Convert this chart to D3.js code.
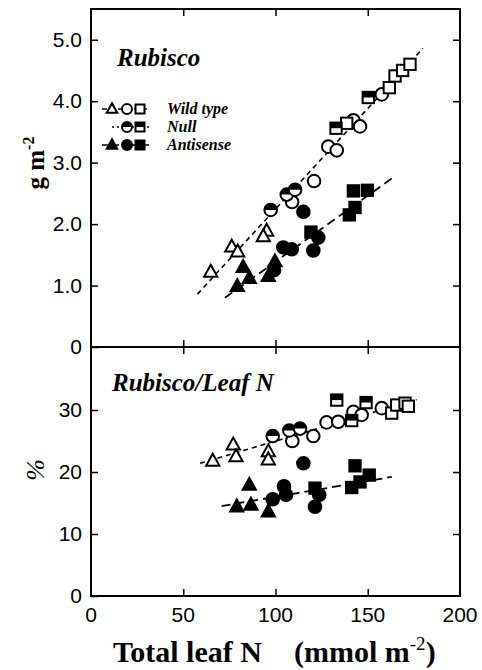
<!DOCTYPE html>
<html>
<head>
<meta charset="utf-8">
<script src="https://cdn.jsdelivr.net/npm/d3@7"></script>
<style>
  body { margin: 0; background: #fff; }
  svg { display: block; }
</style>
</head>
<body>
<svg id="chart" width="482" height="670"></svg>
<script>
// Top panel: Rubisco (g m-2) vs total leaf N
const topWildTri = [[64.9, 1.22], [76.3, 1.63], [79.5, 1.55], [95.2, 1.89], [93.4, 1.80]];
const topWildCircle = [[109.0, 2.36], [120.9, 2.70], [128.6, 3.26], [133.2, 3.20], [142.2, 3.69], [145.8, 3.59], [157.6, 4.11]];
const topWildSquare = [[138.6, 3.64], [161.7, 4.22], [164.8, 4.41], [168.9, 4.50], [172.9, 4.60]];
const topNullCircle = [[97.4, 2.23], [106.1, 2.48], [110.6, 2.56]];
const topNullSquare = [[132.8, 3.56], [150.3, 4.06]];
const topAntiTri = [[79.3, 0.99], [82.5, 1.30], [85.8, 1.12], [96.1, 1.15], [99.7, 1.39]];
const topAntiCircle = [[99.2, 1.25], [104.2, 1.62], [108.8, 1.59], [115.1, 2.20], [120.5, 1.57], [123.2, 1.78]];
const topAntiSquare = [[119.2, 1.87], [140.0, 2.15], [142.2, 2.54], [143.1, 2.27], [149.8, 2.55]];
const topWildFit = [[57.7, 0.86], [179.9, 4.86]];
const topAntiFit = [[72.6, 0.80], [164.8, 2.78]];

// Bottom panel: Rubisco / leaf N (%)
const botWildTri = [[66.0, 21.8], [77.1, 24.4], [78.6, 22.5], [96.1, 23.3], [96.1, 22.0]];
const botWildCircle = [[109.1, 25.0], [120.5, 25.8], [127.7, 28.0], [134.0, 28.1], [142.2, 29.7], [146.7, 29.2], [157.6, 30.3]];
const botWildSquare = [[163.0, 29.5], [165.7, 30.8], [170.2, 31.1], [172.0, 30.6]];
const botNullCircle = [[98.5, 25.8], [107.5, 26.7], [113.3, 27.0]];
const botNullSquare = [[133.2, 31.6], [141.3, 28.3], [149.1, 31.2]];
const botAntiTri = [[79.0, 14.4], [85.8, 17.9], [86.7, 14.7], [96.1, 13.6]];
const botAntiCircle = [[98.5, 15.6], [104.6, 17.7], [105.7, 16.3], [115.1, 21.4], [121.4, 14.4], [123.7, 16.3]];
const botAntiSquare = [[121.4, 17.4], [141.3, 17.5], [143.1, 21.0], [145.8, 18.4], [150.8, 19.5]];
const botWildFit = [[59.1, 21.4], [176.5, 31.7]];
const botAntiFit = [[70.8, 14.5], [163.0, 19.2]];

const xTicks = [0, 50, 100, 150, 200];
const topTicks = [0, 1, 2, 3, 4, 5];
const topTickLabels = ['0', '1.0', '2.0', '3.0', '4.0', '5.0'];
const botTicks = [0, 10, 20, 30];
const botTickLabels = ['0', '10', '20', '30'];
const legendLabels = ['Wild type', 'Null', 'Antisense'];

const svg = d3.select('#chart');
const left = 91, right = 460;
const x = d3.scaleLinear().domain([0, 200]).range([left, right]);
const yTop = d3.scaleLinear().domain([0, 5.5]).range([347, 9]);
const yBot = d3.scaleLinear().domain([0, 40]).range([596, 348]);

const numFont = '"Liberation Sans", Arial, sans-serif';
const serif = '"Liberation Serif", "Times New Roman", serif';

function drawMarker(g, shape, fill, cx, cy, r) {
    if (shape === 'tri') {
        const h = r * 1.9, w = r * 2.1;
        const pts = [[cx, cy - h * 0.6], [cx + w / 2, cy + h * 0.4], [cx - w / 2, cy + h * 0.4]];
        g.append('path')
            .attr('d', 'M' + pts.join('L') + 'Z')
            .attr('fill', fill === 'full' ? '#000' : '#fff')
            .attr('stroke', '#000').attr('stroke-width', 2).attr('stroke-linejoin', 'miter');
    } else if (shape === 'circle') {
        g.append('circle').attr('cx', cx).attr('cy', cy).attr('r', r)
            .attr('fill', fill === 'full' ? '#000' : '#fff')
            .attr('stroke', '#000').attr('stroke-width', 2);
        if (fill === 'half') {
            g.append('path')
                .attr('d', `M${cx - r},${cy} A${r},${r} 0 0 1 ${cx + r},${cy} Z`)
                .attr('fill', '#000');
        }
    } else {
        const s = r * 1.8;
        g.append('rect').attr('x', cx - s / 2).attr('y', cy - s / 2)
            .attr('width', s).attr('height', s)
            .attr('fill', fill === 'full' ? '#000' : '#fff')
            .attr('stroke', '#000').attr('stroke-width', 2);
        if (fill === 'half') {
            g.append('rect').attr('x', cx - s / 2).attr('y', cy - s / 2)
                .attr('width', s).attr('height', s / 2).attr('fill', '#000');
        }
    }
}

function drawPanel(y, ticks, tickLabels, top, bottom, series, fits) {
    const g = svg.append('g');

    // fitted lines
    fits.forEach(f => {
        g.append('path')
            .attr('d', d3.line().x(d => x(d[0])).y(d => y(d[1]))(f.data))
            .attr('fill', 'none')
            .attr('stroke', '#000')
            .attr('stroke-width', f.width)
            .attr('stroke-dasharray', f.dash);
    });

    series.forEach(s => {
        s.data.forEach(d => drawMarker(g, s.shape, s.fill, x(d[0]), y(d[1]), 6.3));
    });

    // inward ticks on all sides
    g.append('g')
        .attr('transform', `translate(${left},0)`)
        .call(d3.axisLeft(y).tickValues(ticks).tickSizeInner(-7).tickSizeOuter(0).tickPadding(9)
            .tickFormat((d, i) => tickLabels[i]))
        .call(a => a.select('.domain').remove())
        .call(a => a.selectAll('text').style('font-family', numFont).style('font-size', '21px').attr('fill', '#000'))
        .call(a => a.selectAll('line').attr('stroke-width', 1.5));

    g.append('g')
        .attr('transform', `translate(${right},0)`)
        .call(d3.axisRight(y).tickValues(ticks.filter(t => t > 0)).tickSizeInner(-7).tickSizeOuter(0).tickFormat(''))
        .call(a => a.select('.domain').remove())
        .call(a => a.selectAll('line').attr('stroke-width', 1.5));

    [top, bottom].forEach((yy, i) => {
        g.append('g')
            .attr('transform', `translate(0,${yy})`)
            .call((i === 0 ? d3.axisTop(x) : d3.axisBottom(x)).tickValues([50, 100, 150])
                .tickSizeInner(-7).tickSizeOuter(0).tickFormat(''))
            .call(a => a.select('.domain').remove())
            .call(a => a.selectAll('line').attr('stroke-width', 1.5));
    });

    g.append('rect')
        .attr('x', left).attr('y', top)
        .attr('width', right - left).attr('height', bottom - top)
        .attr('fill', 'none').attr('stroke', '#000').attr('stroke-width', 2);
    return g;
}

const wildDash = { dash: '5,4', width: 1.6 };
const antiDash = { dash: '9,5', width: 1.8 };

const gTop = drawPanel(yTop, topTicks, topTickLabels, 9, 347, [
    { data: topWildTri, shape: 'tri', fill: 'open' },
    { data: topWildCircle, shape: 'circle', fill: 'open' },
    { data: topWildSquare, shape: 'square', fill: 'open' },
    { data: topNullCircle, shape: 'circle', fill: 'half' },
    { data: topNullSquare, shape: 'square', fill: 'half' },
    { data: topAntiTri, shape: 'tri', fill: 'full' },
    { data: topAntiCircle, shape: 'circle', fill: 'full' },
    { data: topAntiSquare, shape: 'square', fill: 'full' }
], [
    Object.assign({ data: topWildFit }, wildDash),
    Object.assign({ data: topAntiFit }, antiDash)
]);

const gBot = drawPanel(yBot, botTicks, botTickLabels, 347, 596, [
    { data: botWildTri, shape: 'tri', fill: 'open' },
    { data: botWildCircle, shape: 'circle', fill: 'open' },
    { data: botWildSquare, shape: 'square', fill: 'open' },
    { data: botNullCircle, shape: 'circle', fill: 'half' },
    { data: botNullSquare, shape: 'square', fill: 'half' },
    { data: botAntiTri, shape: 'tri', fill: 'full' },
    { data: botAntiCircle, shape: 'circle', fill: 'full' },
    { data: botAntiSquare, shape: 'square', fill: 'full' }
], [
    Object.assign({ data: botWildFit }, wildDash),
    Object.assign({ data: botAntiFit }, antiDash)
]);

// panel titles
gTop.append('text')
    .attr('x', 117).attr('y', 66)
    .style('font-family', serif).style('font-size', '25px')
    .style('font-weight', 'bold').style('font-style', 'italic')
    .text('Rubisco');

gBot.append('text')
    .attr('x', 112).attr('y', 391)
    .style('font-family', serif).style('font-size', '25px')
    .style('font-weight', 'bold').style('font-style', 'italic')
    .text('Rubisco/Leaf N');

// legend
const legend = svg.append('g');
const legendRows = [
    { y: 109, fill: 'open', dash: '5,3', x0: 102, x1: 150 },
    { y: 127, fill: 'half', dash: '2,3', x0: 112, x1: 149 },
    { y: 145, fill: 'full', dash: '7,3', x0: 102, x1: 150 }
];
legendRows.forEach((r, i) => {
    legend.append('line')
        .attr('x1', r.x0).attr('x2', r.x1).attr('y1', r.y).attr('y2', r.y)
        .attr('stroke', '#000').attr('stroke-width', 1.6).attr('stroke-dasharray', r.dash);
    if (i !== 1) drawMarker(legend, 'tri', r.fill, 112, r.y, 5);
    drawMarker(legend, 'circle', r.fill, 127, r.y, 5);
    drawMarker(legend, 'square', r.fill, 140, r.y, 5);
    legend.append('text')
        .attr('x', 167).attr('y', r.y + 5)
        .style('font-family', serif).style('font-size', '16px')
        .style('font-weight', 'bold').style('font-style', 'italic')
        .text(legendLabels[i]);
});

// x axis labels
svg.append('g')
    .selectAll('text')
    .data(xTicks)
    .enter().append('text')
    .attr('x', d => x(d)).attr('y', 622)
    .attr('text-anchor', 'middle')
    .style('font-family', numFont).style('font-size', '21px')
    .text(d => d);

svg.append('text')
    .attr('x', 113).attr('y', 662)
    .style('font-family', serif).style('font-size', '30px').style('font-weight', 'bold')
    .text('Total leaf N');

const xUnit = svg.append('text')
    .attr('x', 294).attr('y', 662)
    .style('font-family', serif).style('font-size', '30px').style('font-weight', 'bold');
xUnit.append('tspan').text('(mmol m');
xUnit.append('tspan').attr('dy', -12).style('font-size', '19px').style('font-weight', 'normal').text('-2');
xUnit.append('tspan').attr('dy', 12).text(')');

// y axis titles
const yTitle = svg.append('text')
    .attr('transform', 'translate(44,163) rotate(-90)')
    .attr('text-anchor', 'middle')
    .style('font-family', serif).style('font-size', '25px').style('font-weight', 'bold');
yTitle.append('tspan').text('g m');
yTitle.append('tspan').attr('dy', -10).style('font-size', '16px').text('-2');

svg.append('text')
    .attr('transform', 'translate(44,470) rotate(-90)')
    .attr('text-anchor', 'middle')
    .style('font-family', serif).style('font-size', '26px').style('font-style', 'italic')
    .text('%');
</script>
</body>
</html>
